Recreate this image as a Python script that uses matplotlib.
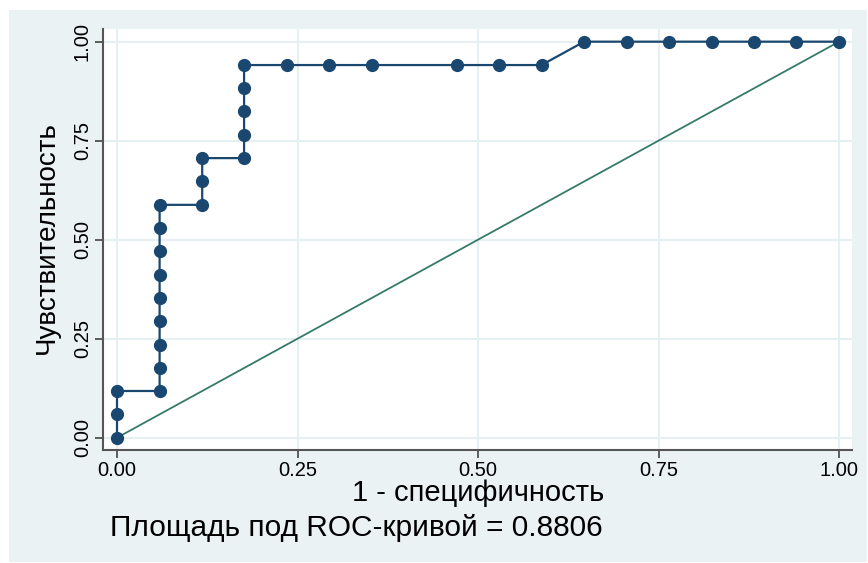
"""ROC curve, Stata-like look"""

import matplotlib
matplotlib.use('Agg')
import matplotlib.pyplot as plt
from matplotlib.patches import Rectangle

plt.rcParams['font.family'] = ['Liberation Sans', 'DejaVu Sans']

# 1 - specificity / sensitivity
fpr = [0.000, 0.000, 0.000, 0.059, 0.059, 0.059, 0.059, 0.059, 0.059,
       0.059, 0.059, 0.059, 0.118, 0.118, 0.118, 0.176, 0.176, 0.176,
       0.176, 0.176, 0.235, 0.294, 0.353, 0.471, 0.529, 0.588, 0.647,
       0.706, 0.765, 0.824, 0.882, 0.941, 1.000]
tpr = [0.000, 0.059, 0.118, 0.118, 0.176, 0.235, 0.294, 0.353, 0.412,
       0.471, 0.529, 0.588, 0.588, 0.647, 0.706, 0.706, 0.765, 0.824,
       0.882, 0.941, 0.941, 0.941, 0.941, 0.941, 0.941, 0.941, 1.000,
       1.000, 1.000, 1.000, 1.000, 1.000, 1.000]
ref_x = [0, 1]
ref_y = [0, 1]
ticks = [0, 0.25, 0.5, 0.75, 1]
tick_labels = ['0.00', '0.25', '0.50', '0.75', '1.00']
auc_text = 'Площадь под ROC-кривой = 0.8806'

W, H = 868, 563
fig = plt.figure(figsize=(W / 100, H / 100), dpi=100, facecolor='white')
# light outer region (graph region in Stata)
fig.patches.append(Rectangle((9 / W, 1 / H), 858 / W, 552 / H,
                             transform=fig.transFigure, facecolor='#eaf2f3',
                             edgecolor='none', zorder=-1))

ax = fig.add_axes([103 / W, (H - 450) / H, 749 / W, 421 / H])
ax.set_zorder(2)
ax.set_facecolor('white')

ax.plot(ref_x, ref_y, color='#367a6a', lw=1.3, zorder=2)
ax.plot(fpr, tpr, color='#1a476f', lw=1.6, marker='o', markersize=8.5,
        zorder=3, clip_on=False)

ax.set_xlim(-0.0194, 1.018)
ax.set_ylim(-0.031, 1.032)
ax.set_xticks(ticks)
ax.set_xticklabels(tick_labels)
ax.set_yticks(ticks)
ax.set_yticklabels(tick_labels, rotation=90, va='center')
ax.tick_params(direction='out', length=6, width=1.2, colors='#444444',
               labelcolor='black', labelsize=14.5, pad=2)
ax.grid(True, color='#e6eff1', lw=1.5, zorder=0)
ax.set_axisbelow(True)

for s in ['top', 'right']:
    ax.spines[s].set_visible(False)
for s in ['left', 'bottom']:
    ax.spines[s].set_color('#555555')
    ax.spines[s].set_linewidth(1.5)

fig.text(478 / W, 1 - 493 / H, '1 - специфичность', fontsize=21,
         ha='center', va='center', zorder=3)
fig.text(47 / W, 1 - 238 / H, 'Чувствительность', fontsize=20,
         rotation=90, ha='center', va='center', zorder=3)
fig.text(110 / W, 1 - 528 / H, auc_text, fontsize=21.5,
         ha='left', va='center', zorder=3)

fig.savefig('out.png', dpi=100, facecolor=fig.get_facecolor())
